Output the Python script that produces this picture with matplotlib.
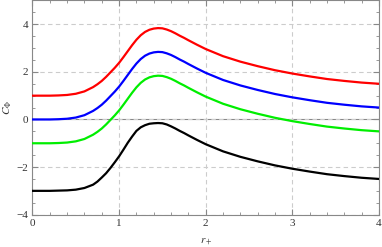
import matplotlib
matplotlib.use('Agg')
import matplotlib.pyplot as plt
from matplotlib.ticker import MultipleLocator

r_plus = [0.0, 0.2, 0.3, 0.4, 0.5, 0.6, 0.7, 0.75, 0.8, 0.85, 0.9, 0.95, 1.0, 1.05, 1.1, 1.15,
          1.2, 1.25, 1.3, 1.35, 1.4, 1.45, 1.5, 1.55, 1.6, 1.65, 1.7, 1.75, 1.8, 1.9, 2.0,
          2.2, 2.4, 2.6, 2.8, 3.0, 3.2, 3.4, 3.6, 3.8, 4.0]

c_red = [1.0, 1.0, 1.01, 1.03, 1.08, 1.18, 1.36, 1.48, 1.62, 1.79, 1.98, 2.17, 2.38, 2.62, 2.87, 3.12,
         3.35, 3.54, 3.68, 3.77, 3.82, 3.84, 3.83, 3.78, 3.71, 3.62, 3.52, 3.43, 3.33, 3.14, 2.96,
         2.66, 2.43, 2.24, 2.07, 1.93, 1.81, 1.70, 1.62, 1.55, 1.5]
c_blue = [0.0, 0.0, 0.01, 0.03, 0.08, 0.18, 0.36, 0.48, 0.62, 0.79, 0.98, 1.17, 1.38, 1.62, 1.87, 2.12,
          2.35, 2.54, 2.68, 2.77, 2.82, 2.84, 2.83, 2.78, 2.71, 2.62, 2.52, 2.43, 2.33, 2.14, 1.96,
          1.66, 1.43, 1.24, 1.07, 0.93, 0.81, 0.70, 0.62, 0.55, 0.5]
c_green = [-1.0, -1.0, -0.99, -0.97, -0.92, -0.82, -0.64, -0.52, -0.38, -0.21, -0.02, 0.17, 0.38, 0.62, 0.87, 1.12,
           1.35, 1.54, 1.68, 1.77, 1.82, 1.84, 1.83, 1.78, 1.71, 1.62, 1.52, 1.43, 1.33, 1.14, 0.96,
           0.66, 0.43, 0.24, 0.07, -0.07, -0.19, -0.30, -0.38, -0.45, -0.5]
c_black = [-3.0, -3.0, -2.99, -2.98, -2.95, -2.88, -2.74, -2.61, -2.44, -2.26, -2.04, -1.80, -1.55, -1.27, -0.98, -0.72,
           -0.48, -0.33, -0.24, -0.18, -0.16, -0.15, -0.16, -0.21, -0.29, -0.38, -0.48, -0.57, -0.67, -0.86, -1.04,
           -1.34, -1.57, -1.76, -1.93, -2.07, -2.19, -2.30, -2.38, -2.45, -2.5]

plt.rcParams['font.family'] = ['Liberation Serif', 'DejaVu Serif']
plt.rcParams['mathtext.fontset'] = 'stix'

fig = plt.figure(figsize=(3.82, 2.47), dpi=100)
ax = fig.add_axes([0.085, 0.131, 0.907, 0.867])

ax.axhline(0, color='#888888', lw=0.8, zorder=1)
ax.plot(r_plus, c_red, color='#ff0000', lw=1.6, zorder=3)
ax.plot(r_plus, c_blue, color='#0000ff', lw=1.6, zorder=3)
ax.plot(r_plus, c_green, color='#00ee00', lw=1.6, zorder=3)
ax.plot(r_plus, c_black, color='black', lw=1.6, zorder=3)

ax.set_xlim(0, 4)
ax.set_ylim(-4, 5)
ax.xaxis.set_major_locator(MultipleLocator(1))
ax.xaxis.set_minor_locator(MultipleLocator(0.2))
ax.yaxis.set_major_locator(MultipleLocator(2))
ax.yaxis.set_minor_locator(MultipleLocator(0.5))
ax.grid(True, which='major', color='#cccccc', ls=(0, (4, 3)), lw=0.8)
ax.tick_params(which='both', direction='in', top=True, right=True, color='#888888',
               labelsize=8, labelcolor='#333333', pad=3)
ax.tick_params(which='major', length=4)
ax.tick_params(which='minor', length=2)
for s in ax.spines.values():
    s.set_color('#888888')
    s.set_linewidth(0.8)

ax.set_xlabel(r'$r_+$', fontsize=8, color='#333333', labelpad=6)
ax.set_ylabel(r'$C_\Phi$', fontsize=8, color='#333333', labelpad=2)

fig.savefig('out.png', dpi=100)
